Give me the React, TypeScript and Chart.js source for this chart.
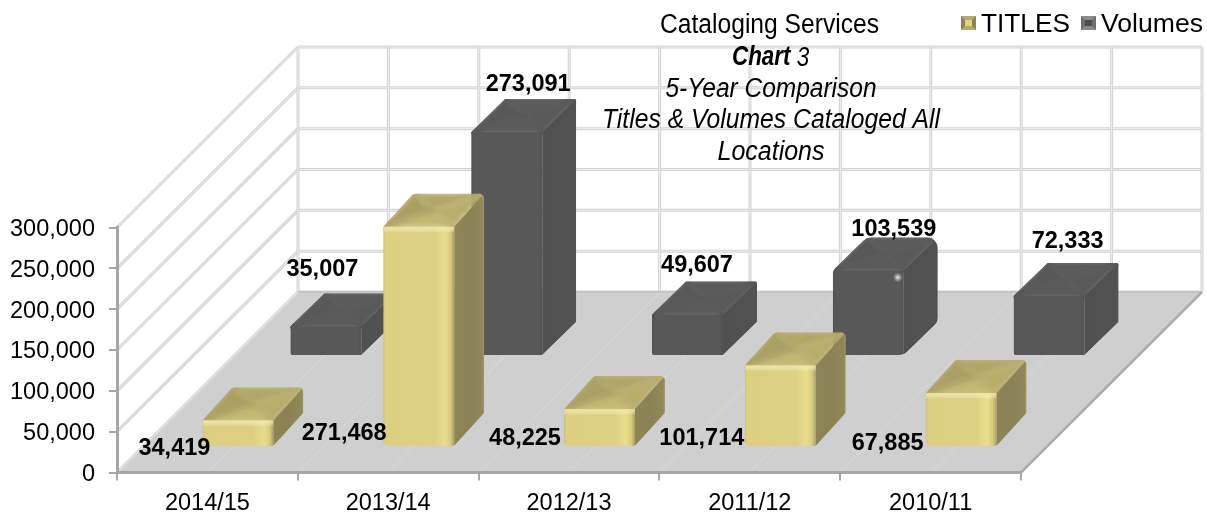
import React, { useEffect, useRef } from "react";
import { Chart, registerables } from "chart.js";

Chart.register(...registerables);

const categories = ["2014/15", "2013/14", "2012/13", "2011/12", "2010/11"];
const titles = [34419, 271468, 48225, 101714, 67885];
const volumes = [35007, 273091, 49607, 103539, 72333];
const titleLines = ["Cataloging Services", "5-Year Comparison", "Titles & Volumes Cataloged All", "Locations"];
const FONT = '"Liberation Sans", Arial, sans-serif';

// label placement: [dx from bar centre on the scale, dy from value pixel or base]
const titleLabelOffset = [[-33, -24], [-44, -39], [-44, -33.5], [-48, -33.5], [-43, -28.5]];
const volumeLabelOffset = [[115, -174.5], [140, -165], [128, -166.5], [144, -158.5], [137, -171.5]];
const volumeRadius = [2, 2, 2, 11, 2];

const DEPTH_X = 181;
const DEPTH_Y = 180.5;

type Pt = [number, number];

function poly(ctx: CanvasRenderingContext2D, pts: Pt[]) {
  ctx.beginPath();
  pts.forEach((p, i) => (i ? ctx.lineTo(p[0], p[1]) : ctx.moveTo(p[0], p[1])));
  ctx.closePath();
}

function roundedPoly(ctx: CanvasRenderingContext2D, pts: Pt[], r: number) {
  const n = pts.length;
  const mid = (a: Pt, b: Pt): Pt => [(a[0] + b[0]) / 2, (a[1] + b[1]) / 2];
  const s = mid(pts[n - 1], pts[0]);
  ctx.beginPath();
  ctx.moveTo(s[0], s[1]);
  for (let i = 0; i < n; i++) {
    const p = pts[i];
    const q = pts[(i + 1) % n];
    ctx.arcTo(p[0], p[1], q[0], q[1], r);
  }
  ctx.closePath();
}

function gridLine(ctx: CanvasRenderingContext2D, a: Pt, b: Pt, w = 3) {
  ctx.lineCap = "butt";
  ctx.strokeStyle = "#d3d3d3";
  ctx.lineWidth = w;
  ctx.beginPath();
  ctx.moveTo(a[0], a[1]);
  ctx.lineTo(b[0], b[1]);
  ctx.stroke();
  ctx.strokeStyle = "#f0f0f0";
  ctx.lineWidth = 1;
  ctx.beginPath();
  ctx.moveTo(a[0], a[1]);
  ctx.lineTo(b[0], b[1]);
  ctx.stroke();
}

function fitText(ctx: CanvasRenderingContext2D, text: string, cx: number, cy: number, font: string, width: number) {
  ctx.save();
  ctx.font = font;
  ctx.textAlign = "center";
  ctx.textBaseline = "middle";
  ctx.fillStyle = "#000";
  const m = ctx.measureText(text).width;
  ctx.translate(cx, cy);
  ctx.scale(width / m, 1);
  ctx.fillText(text, 0, 0);
  ctx.restore();
}

interface Palette {
  front: [number, string][];
  side: [number, string][];
  topFacets: string[];
  highlight: string;
  dx: number;
  dy: number;
  blur: string;
}

const goldPalette: Palette = {
  front: [[0, "#cdc077"], [0.03, "#dccf82"], [0.72, "#ddd083"], [0.87, "#e9dd8c"], [0.95, "#d6c97e"], [1, "#a89d62"]],
  side: [[0, "#8e8556"], [0.5, "#8b8254"], [0.93, "#90875a"], [1, "#a59b66"]],
  topFacets: ["#c4b771", "#ab9f62", "#b2a767", "#b9ad6b"],
  highlight: "rgba(240,228,150,0.9)",
  dx: 30,
  dy: 33,
  blur: "blur(2px)",
};

const darkPalette: Palette = {
  front: [[0, "#505050"], [0.03, "#585858"], [0.95, "#585858"], [1, "#525252"]],
  side: [[0, "#505050"], [1, "#525252"]],
  topFacets: ["#5a5a5a", "#585858", "#5b5b5b", "#595959"],
  highlight: "rgba(88,88,88,0)",
  dx: 34,
  dy: 33,
  blur: "blur(1px)",
};

function drawBar(
  ctx: CanvasRenderingContext2D,
  x0: number,
  x1: number,
  top: number,
  base: number,
  p: Palette,
  r: number
) {
  const { dx, dy } = p;
  ctx.save();
  roundedPoly(
    ctx,
    [
      [x0, top],
      [x0 + dx, top - dy],
      [x1 + dx, top - dy],
      [x1 + dx, base - dy],
      [x1, base],
      [x0, base],
    ],
    r
  );
  ctx.clip();

  // top face with bevelled facets
  const c: Pt = [(x0 + x1 + dx) / 2, top - dy / 2];
  const a: Pt = [x0, top];
  const b: Pt = [x1, top];
  const e: Pt = [x1 + dx, top - dy];
  const d: Pt = [x0 + dx, top - dy];
  ctx.save();
  (ctx as any).filter = p.blur;
  ([[a, b], [d, a], [e, d], [b, e]] as [Pt, Pt][]).forEach(([u, v], i) => {
    poly(ctx, [u, v, c]);
    ctx.fillStyle = p.topFacets[i];
    ctx.strokeStyle = p.topFacets[i];
    ctx.lineWidth = 3;
    ctx.stroke();
    ctx.fill();
  });
  ctx.restore();

  // right side
  const sg = ctx.createLinearGradient(x1, 0, x1 + dx, 0);
  p.side.forEach(([o, col]) => sg.addColorStop(o, col));
  poly(ctx, [[x1, top], e, [x1 + dx, base - dy], [x1, base]]);
  ctx.fillStyle = sg;
  ctx.fill();

  // front
  const fg = ctx.createLinearGradient(x0, 0, x1, 0);
  p.front.forEach(([o, col]) => fg.addColorStop(o, col));
  ctx.fillStyle = fg;
  ctx.fillRect(x0, top, x1 - x0, base - top);
  const hg = ctx.createLinearGradient(0, top, 0, top + 6);
  hg.addColorStop(0, p.highlight);
  hg.addColorStop(1, "rgba(255,255,255,0)");
  ctx.fillStyle = hg;
  ctx.fillRect(x0, top, x1 - x0, Math.min(6, base - top));
  ctx.restore();
}

const chart3d = {
  id: "chart3d",
  beforeDraw(chart: any) {
    const ctx: CanvasRenderingContext2D = chart.ctx;
    const { x, y } = chart.scales;
    const L = x.left;
    const R = x.right;
    const B = y.getPixelForValue(0);
    ctx.save();
    ctx.fillStyle = "#ffffff";
    ctx.fillRect(0, 0, chart.width, chart.height);

    // floor
    poly(ctx, [[L, B], [L + DEPTH_X, B - DEPTH_Y], [R + DEPTH_X, B - DEPTH_Y], [R, B]]);
    ctx.fillStyle = "#cfcfcf";
    ctx.fill();
    const cells = categories.length * 2;
    const step = (R - L) / cells;
    ctx.strokeStyle = "#dadada";
    ctx.lineWidth = 1;
    for (let i = 1; i < cells; i++) {
      ctx.beginPath();
      ctx.moveTo(L + i * step, B);
      ctx.lineTo(L + i * step + DEPTH_X, B - DEPTH_Y);
      ctx.stroke();
    }

    // side wall & back wall
    y.ticks.forEach((t: any) => {
      const py = y.getPixelForValue(t.value);
      gridLine(ctx, [L, py], [L + DEPTH_X, py - DEPTH_Y], 3);
    });
    y.ticks.forEach((t: any) => {
      const py = y.getPixelForValue(t.value) - DEPTH_Y;
      gridLine(ctx, [L + DEPTH_X, py], [R + DEPTH_X, py], 3);
    });
    const wallTop = y.getPixelForValue(300000) - DEPTH_Y;
    for (let i = 0; i <= cells; i++) {
      const px = L + i * step + DEPTH_X;
      gridLine(ctx, [px, wallTop], [px, B - DEPTH_Y], 3);
    }

    // floor edges
    ctx.strokeStyle = "#c4c4c4";
    ctx.lineWidth = 2;
    ctx.beginPath();
    ctx.moveTo(L + DEPTH_X, B - DEPTH_Y);
    ctx.lineTo(R + DEPTH_X, B - DEPTH_Y);
    ctx.stroke();
    ctx.strokeStyle = "#acacac";
    ctx.lineWidth = 2.5;
    ctx.beginPath();
    ctx.moveTo(R, B);
    ctx.lineTo(R + DEPTH_X, B - DEPTH_Y);
    ctx.stroke();
    ctx.restore();
  },
  afterDatasetsDraw(chart: any) {
    const ctx: CanvasRenderingContext2D = chart.ctx;
    const titleEls = chart.getDatasetMeta(0).data;
    const volEls = chart.getDatasetMeta(1).data;
    const baseY = chart.scales.y.getPixelForValue(0);

    // bars: back series first
    volEls.forEach((el: any, i: number) => {
      const cx = el.x + 118.5;
      drawBar(ctx, cx - el.width / 2, cx + el.width / 2, el.y - 117.5, baseY - 117.5, darkPalette, volumeRadius[i]);
      if (volumeRadius[i] > 5) {
        const sx = cx + el.width / 2 - 6;
        const sy = el.y - 117.5 + 7;
        const g = ctx.createRadialGradient(sx, sy, 0, sx, sy, 5);
        g.addColorStop(0, "rgba(255,255,255,0.95)");
        g.addColorStop(0.4, "rgba(255,255,255,0.45)");
        g.addColorStop(1, "rgba(255,255,255,0)");
        ctx.fillStyle = g;
        ctx.fillRect(sx - 5, sy - 5, 10, 10);
      }
    });
    titleEls.forEach((el: any) => {
      const cx = el.x + 30.5;
      drawBar(ctx, cx - el.width / 2, cx + el.width / 2, el.y - 24, baseY - 26.5, goldPalette, 5);
    });

    // data labels
    ctx.save();
    ctx.font = `bold 23.5px ${FONT}`;
    ctx.fillStyle = "#000";
    ctx.textAlign = "center";
    ctx.textBaseline = "middle";
    titleEls.forEach((el: any, i: number) => {
      ctx.fillText(titles[i].toLocaleString("en-US"), el.x + titleLabelOffset[i][0], baseY + titleLabelOffset[i][1]);
    });
    volEls.forEach((el: any, i: number) => {
      ctx.fillText(volumes[i].toLocaleString("en-US"), el.x + volumeLabelOffset[i][0], el.y + volumeLabelOffset[i][1]);
    });
    ctx.restore();

    // chart title
    const cx = 771;
    fitText(ctx, titleLines[0], 769.5, 26, `27px ${FONT}`, 219);
    ctx.save();
    ctx.fillStyle = "#000";
    ctx.textBaseline = "middle";
    ctx.textAlign = "left";
    ctx.translate(732, 58);
    ctx.scale(0.83, 1);
    ctx.font = `italic bold 27px ${FONT}`;
    ctx.fillText("Chart", 0, 0);
    const w = ctx.measureText("Chart ").width;
    ctx.font = `italic 27px ${FONT}`;
    ctx.fillText("3", w, 0);
    ctx.restore();
    fitText(ctx, titleLines[1], cx, 89, `italic 27px ${FONT}`, 211);
    fitText(ctx, titleLines[2], cx, 120, `italic 27px ${FONT}`, 338);
    fitText(ctx, titleLines[3], cx, 152, `italic 27px ${FONT}`, 107);

    // legend
    const swatch = (sx: number, outer: string, inner: string, dark: string) => {
      ctx.fillStyle = outer;
      ctx.fillRect(sx, 16, 15, 14);
      ctx.fillStyle = dark;
      poly(ctx, [[sx, 16], [sx + 4, 20], [sx + 4, 26], [sx, 30]]);
      ctx.fill();
      poly(ctx, [[sx + 15, 16], [sx + 11, 20], [sx + 11, 26], [sx + 15, 30]]);
      ctx.fill();
      ctx.fillStyle = inner;
      ctx.fillRect(sx + 4, 20, 7, 6);
    };
    swatch(961, "#b6aa68", "#e0d384", "#8d8456");
    swatch(1081, "#8a8a8a", "#4d4d4d", "#6e6e6e");
    const legendFont = `25px ${FONT}`;
    fitText(ctx, chart.data.datasets[0].label, 1025.5, 25.5, legendFont, 89);
    fitText(ctx, chart.data.datasets[1].label, 1152, 25.5, legendFont, 102);
  },
};

export default function App() {
  const ref = useRef<HTMLCanvasElement | null>(null);
  useEffect(() => {
    if (!ref.current) return;
    const chart = new Chart(ref.current, {
      type: "bar",
      data: {
        labels: categories,
        datasets: [
          { label: "TITLES", data: titles, backgroundColor: "rgba(0,0,0,0)", barThickness: 71, grouped: false } as any,
          { label: "Volumes", data: volumes, backgroundColor: "rgba(0,0,0,0)", barThickness: 71, grouped: false } as any,
        ],
      },
      options: {
        animation: false,
        responsive: false,
        layout: { padding: { top: 227.5, right: 186, left: 0, bottom: 0 } },
        plugins: { legend: { display: false }, title: { display: false }, tooltip: { enabled: false } },
        scales: {
          x: {
            afterFit: (s: any) => { s.height = 42.5; },
            border: { color: "#a6a6a6", width: 3 },
            grid: { drawOnChartArea: false, color: "#a6a6a6", tickLength: 8, lineWidth: 2 },
            ticks: { color: "#000", padding: 9, maxRotation: 0, font: { family: FONT, size: 23.5 } },
          },
          y: {
            min: 0,
            max: 300000,
            afterFit: (s: any) => { s.width = 117; },
            border: { color: "#a6a6a6", width: 3 },
            grid: { drawOnChartArea: false, color: "#a6a6a6", tickLength: 8, lineWidth: 2 },
            ticks: {
              stepSize: 50000,
              color: "#000",
              padding: 14,
              labelOffset: 2,
              font: { family: FONT, size: 23.5 },
              callback: (v: any) => Number(v).toLocaleString("en-US"),
            },
          },
        },
      } as any,
      plugins: [chart3d as any],
    });
    return () => chart.destroy();
  }, []);
  return (
    <div style={{ position: "fixed", left: 0, top: 0, width: 1207, height: 515, background: "#fff" }}>
      <canvas ref={ref} width={1207} height={515} style={{ display: "block" }} />
    </div>
  );
}
